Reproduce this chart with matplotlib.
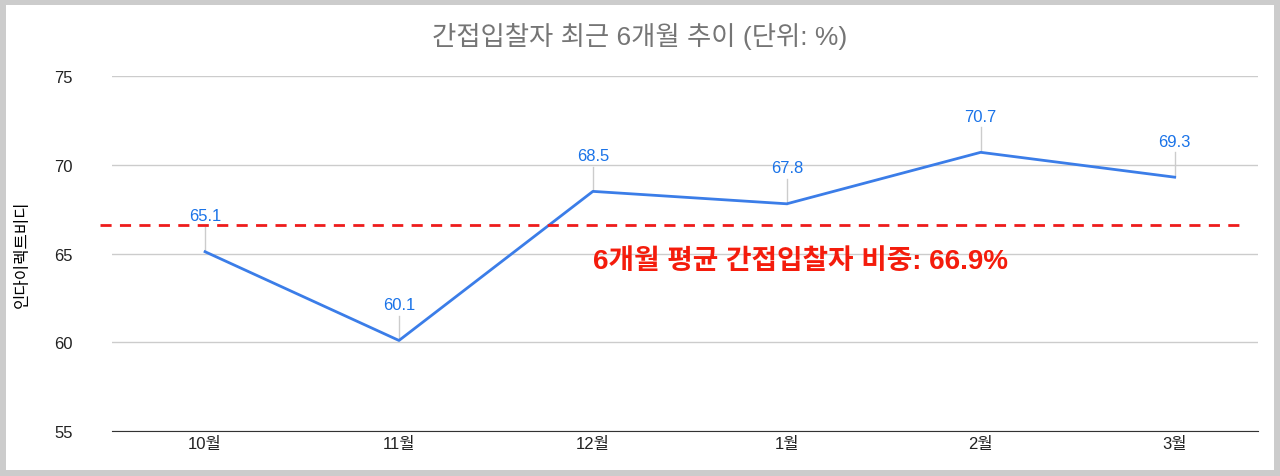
import matplotlib
matplotlib.use("Agg")
import matplotlib.pyplot as plt
from matplotlib.patches import Rectangle

plt.rcParams['font.family'] = ['Liberation Sans', 'Noto Sans CJK KR', 'DejaVu Sans']

months = ['10월', '11월', '12월', '1월', '2월', '3월']
values = [65.1, 60.1, 68.5, 67.8, 70.7, 69.3]
avg = 66.9
avg_line = 66.6
yticks = [55, 60, 65, 70, 75]

fig = plt.figure(figsize=(12.8, 4.77), dpi=100, facecolor='#cccccc')
fig.patches.append(Rectangle((6/1280, 6/477), 1268/1280, 465/477, transform=fig.transFigure,
                             facecolor='white', edgecolor='none', zorder=-1))
ax = fig.add_axes([112/1280, 1-432/477, (1258-112)/1280, (432-77)/477])
ax.set_facecolor('white')
x = list(range(len(months)))
ax.plot(x, values, color='#3b7de8', lw=2, zorder=3)
for xi, v in zip(x, values):
    ax.plot([xi, xi], [v, v+1.4], color='#cccccc', lw=1, zorder=2)
    ax.text(xi, v+1.6, f'{v}', ha='center', va='bottom', color='#1a73e8', fontsize=12)
ax.plot([-0.54, 5.37], [avg_line, avg_line], color='#ee1c1c', lw=2, ls=(0, (4, 3)), clip_on=False, zorder=4)
ax.text(3.07, 64.6, f'6개월 평균 간접입찰자 비중: {avg}%', color='#f41c0c', fontsize=20,
        fontweight='bold', ha='center', va='center')
ax.set_xlim(-0.48, 5.43)
ax.set_ylim(55, 75)
ax.set_yticks(yticks)
ax.set_xticks(x)
ax.set_xticklabels(months)
ax.grid(axis='y', color='#cccccc', lw=1)
ax.set_axisbelow(True)
for s in ['top', 'right', 'left']:
    ax.spines[s].set_visible(False)
ax.spines['bottom'].set_color('#333333')
ax.tick_params(length=0, labelsize=12, colors='#222222')
ax.tick_params(axis='y', pad=28)
ax.set_ylabel('인다이렉트비디', fontsize=12, labelpad=18)
fig.text(0.5, 1-37/477, '간접입찰자 최근 6개월 추이 (단위: %)', ha='center', va='center',
         fontsize=19, color='#757575')
fig.savefig('out.png', dpi=100, facecolor=fig.get_facecolor())
